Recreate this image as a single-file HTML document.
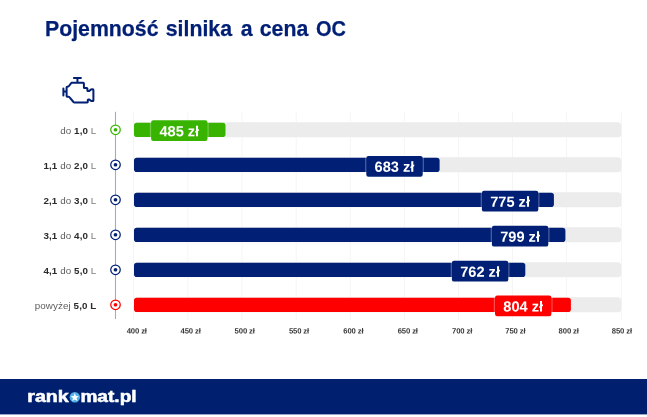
<!DOCTYPE html>
<html lang="pl">
<head>
<meta charset="utf-8">
<title>Pojemność silnika a cena OC</title>
<style>
html,body{margin:0;padding:0;background:#fff;}
body{width:647px;height:417px;position:relative;overflow:hidden;font-family:"Liberation Sans",sans-serif;}
svg.chart{position:absolute;left:0;top:0;font-family:"Liberation Sans",sans-serif;}
svg .v{font-size:14.6px;font-weight:700;fill:#fff;text-anchor:middle;}
svg .t{font-size:7.7px;letter-spacing:-.13px;font-weight:700;fill:#383838;text-anchor:middle;}
h1{position:absolute;left:44.6px;top:17px;margin:0;font-size:21.6px;line-height:24px;font-weight:700;color:#001f75;white-space:nowrap;word-spacing:1.4px;transform:scaleX(0.985);transform-origin:0 0;-webkit-text-stroke:.25px #001f75;}
h1 span{margin-left:1.4px;}
h1 em{font-style:normal;display:inline-block;transform:scaleX(.94);transform-origin:0 50%;}
.lab{position:absolute;right:550.6px;font-size:9.8px;letter-spacing:.1px;line-height:12px;color:#5c5c5c;white-space:nowrap;text-align:right;}
.lab b{color:#2b2b2b;font-weight:700;}
.lab i{font-style:normal;color:#7c7c7c;}
</style>
</head>
<body>
<svg class="chart" width="647" height="417" viewBox="0 0 647 417">
<rect x="133.00" y="112" width="1" height="208" fill="#f5f5f5"/>
<rect x="187.30" y="112" width="1" height="208" fill="#f5f5f5"/>
<rect x="241.50" y="112" width="1" height="208" fill="#f5f5f5"/>
<rect x="295.70" y="112" width="1" height="208" fill="#f5f5f5"/>
<rect x="349.80" y="112" width="1" height="208" fill="#f5f5f5"/>
<rect x="403.90" y="112" width="1" height="208" fill="#f5f5f5"/>
<rect x="458.00" y="112" width="1" height="208" fill="#f5f5f5"/>
<rect x="512.00" y="112" width="1" height="208" fill="#f5f5f5"/>
<rect x="566.00" y="112" width="1" height="208" fill="#f5f5f5"/>
<rect x="620.90" y="112" width="1" height="208" fill="#f5f5f5"/>
<rect x="114.95" y="111.8" width="1.1" height="207.2" fill="#a2a8d6"/>
<rect x="134.0" y="122.30" width="487.30" height="14.9" rx="3.5" fill="#ececec"/>
<rect x="134.0" y="157.30" width="487.30" height="14.9" rx="3.5" fill="#ececec"/>
<rect x="134.0" y="192.30" width="487.30" height="14.9" rx="3.5" fill="#ececec"/>
<rect x="134.0" y="227.30" width="487.30" height="14.9" rx="3.5" fill="#ececec"/>
<rect x="134.0" y="262.30" width="487.30" height="14.9" rx="3.5" fill="#ececec"/>
<rect x="134.0" y="297.30" width="487.30" height="14.9" rx="3.5" fill="#ececec"/>
<rect x="134.0" y="122.70" width="91.50" height="14.4" rx="2.8" fill="#38b400"/>
<rect x="149.90" y="119.05" width="58.80" height="23.20" rx="3.2" fill="#fff" fill-opacity=".3"/>
<rect x="151.10" y="120.25" width="56.4" height="20.8" rx="2.2" fill="#38b400"/>
<circle cx="115.5" cy="129.75" r="4.75" fill="#fff" stroke="#38b400" stroke-width="1.25"/><circle cx="115.5" cy="129.75" r="1.85" fill="#38b400"/>
<rect x="134.0" y="157.70" width="305.60" height="14.4" rx="2.8" fill="#001f75"/>
<rect x="365.10" y="154.70" width="58.80" height="23.20" rx="3.2" fill="#fff" fill-opacity=".3"/>
<rect x="366.30" y="155.90" width="56.4" height="20.8" rx="2.2" fill="#001f75"/>
<circle cx="115.5" cy="164.75" r="4.75" fill="#fff" stroke="#001f75" stroke-width="1.25"/><circle cx="115.5" cy="164.75" r="1.85" fill="#001f75"/>
<rect x="134.0" y="192.70" width="419.90" height="14.4" rx="2.8" fill="#001f75"/>
<rect x="480.70" y="189.60" width="58.80" height="23.20" rx="3.2" fill="#fff" fill-opacity=".3"/>
<rect x="481.90" y="190.80" width="56.4" height="20.8" rx="2.2" fill="#001f75"/>
<circle cx="115.5" cy="199.75" r="4.75" fill="#fff" stroke="#001f75" stroke-width="1.25"/><circle cx="115.5" cy="199.75" r="1.85" fill="#001f75"/>
<rect x="134.0" y="227.70" width="431.40" height="14.4" rx="2.8" fill="#001f75"/>
<rect x="490.70" y="224.60" width="58.80" height="23.20" rx="3.2" fill="#fff" fill-opacity=".3"/>
<rect x="491.90" y="225.80" width="56.4" height="20.8" rx="2.2" fill="#001f75"/>
<circle cx="115.5" cy="234.75" r="4.75" fill="#fff" stroke="#001f75" stroke-width="1.25"/><circle cx="115.5" cy="234.75" r="1.85" fill="#001f75"/>
<rect x="134.0" y="262.70" width="391.30" height="14.4" rx="2.8" fill="#001f75"/>
<rect x="450.70" y="259.60" width="58.80" height="23.20" rx="3.2" fill="#fff" fill-opacity=".3"/>
<rect x="451.90" y="260.80" width="56.4" height="20.8" rx="2.2" fill="#001f75"/>
<circle cx="115.5" cy="269.75" r="4.75" fill="#fff" stroke="#001f75" stroke-width="1.25"/><circle cx="115.5" cy="269.75" r="1.85" fill="#001f75"/>
<rect x="134.0" y="297.70" width="436.90" height="14.4" rx="2.8" fill="#ff0000"/>
<rect x="493.80" y="294.30" width="58.80" height="23.20" rx="3.2" fill="#fff" fill-opacity=".3"/>
<rect x="495.00" y="295.50" width="56.4" height="20.8" rx="2.2" fill="#ff0000"/>
<circle cx="115.5" cy="304.75" r="4.75" fill="#fff" stroke="#ff0000" stroke-width="1.25"/><circle cx="115.5" cy="304.75" r="1.85" fill="#ff0000"/>
<path d="M73.9 78.05H80.9M77.45 78.05V82.6M71.6 82.8H83.2Q83.9 82.8 83.9 83.5V87.4Q83.9 88 84.6 88H86.8Q87.4 88 87.4 88.6V90.4Q87.4 91 88 91H89.3L90.9 89.6Q91.3 89.3 91.9 89.3H92.8Q93.4 89.3 93.4 89.9V100.5Q93.4 101.1 92.8 101.1H91.9Q91.3 101.1 90.9 100.8L89.3 99.4H88.4Q87.8 99.4 87.8 100V101.8Q87.8 102.4 87.2 102.4H74.4Q73.9 102.4 73.5 102L69.4 97.2Q69 96.7 68.4 96.7H67.2Q66.6 96.7 66.6 96.1V87.4Q66.6 86.8 67.2 86.7L68.2 86.5Q68.7 86.4 69 86L71 83.3Q71.3 82.8 71.9 82.8M66.6 91.4H63.4M63.4 88.5V95.5" fill="none" stroke="#001f75" stroke-width="2" stroke-linejoin="round" stroke-linecap="round"/>
<rect x="0" y="379" width="647" height="35.4" fill="#00206f"/>
<circle cx="74.8" cy="397.3" r="5.2" fill="#4fb2e8"/>
<path d="M74.80 393.10L75.92 395.96L78.98 396.14L76.61 398.09L77.39 401.06L74.80 399.40L72.21 401.06L72.99 398.09L70.62 396.14L73.68 395.96z" fill="#fff"/>
<text x="27.3" y="402.2" font-family="Liberation Sans, sans-serif" font-weight="700" font-size="17" fill="#fff" stroke="#fff" stroke-width=".55" textLength="41.4" lengthAdjust="spacingAndGlyphs">rank</text>
<text x="80.4" y="402.2" font-family="Liberation Sans, sans-serif" font-weight="700" font-size="17" fill="#fff" stroke="#fff" stroke-width=".55" textLength="56.2" lengthAdjust="spacingAndGlyphs">mat.pl</text>
<text class="v" x="179.30" y="136.15" transform="rotate(0.03 179.30 136.15)">485 zł</text>
<text class="v" x="394.50" y="171.80" transform="rotate(0.03 394.50 171.80)">683 zł</text>
<text class="v" x="510.10" y="206.70" transform="rotate(0.03 510.10 206.70)">775 zł</text>
<text class="v" x="520.10" y="241.70" transform="rotate(0.03 520.10 241.70)">799 zł</text>
<text class="v" x="480.10" y="276.70" transform="rotate(0.03 480.10 276.70)">762 zł</text>
<text class="v" x="523.20" y="311.40" transform="rotate(0.03 523.20 311.40)">804 zł</text>
<text class="t" x="136.80" y="333.45" transform="rotate(0.03 136.80 333.45)">400 zł</text>
<text class="t" x="190.60" y="333.45" transform="rotate(0.03 190.60 333.45)">450 zł</text>
<text class="t" x="244.70" y="333.45" transform="rotate(0.03 244.70 333.45)">500 zł</text>
<text class="t" x="299.00" y="333.45" transform="rotate(0.03 299.00 333.45)">550 zł</text>
<text class="t" x="353.40" y="333.45" transform="rotate(0.03 353.40 333.45)">600 zł</text>
<text class="t" x="407.80" y="333.45" transform="rotate(0.03 407.80 333.45)">650 zł</text>
<text class="t" x="462.10" y="333.45" transform="rotate(0.03 462.10 333.45)">700 zł</text>
<text class="t" x="515.40" y="333.45" transform="rotate(0.03 515.40 333.45)">750 zł</text>
<text class="t" x="568.70" y="333.45" transform="rotate(0.03 568.70 333.45)">800 zł</text>
<text class="t" x="621.90" y="333.45" transform="rotate(0.03 621.90 333.45)">850 zł</text>
</svg>
<h1>Pojemność silnika <span>a cena <em>OC</em></span></h1>
<div class="lab" style="top:125px">do <b>1,0</b> <i>L</i></div>
<div class="lab" style="top:160px"><b>1,1</b> do <b>2,0</b> <i>L</i></div>
<div class="lab" style="top:195px"><b>2,1</b> do <b>3,0</b> <i>L</i></div>
<div class="lab" style="top:230px"><b>3,1</b> do <b>4,0</b> <i>L</i></div>
<div class="lab" style="top:265px"><b>4,1</b> do <b>5,0</b> <i>L</i></div>
<div class="lab" style="top:300px">powyżej <b>5,0 L</b></div>
</body>
</html>
